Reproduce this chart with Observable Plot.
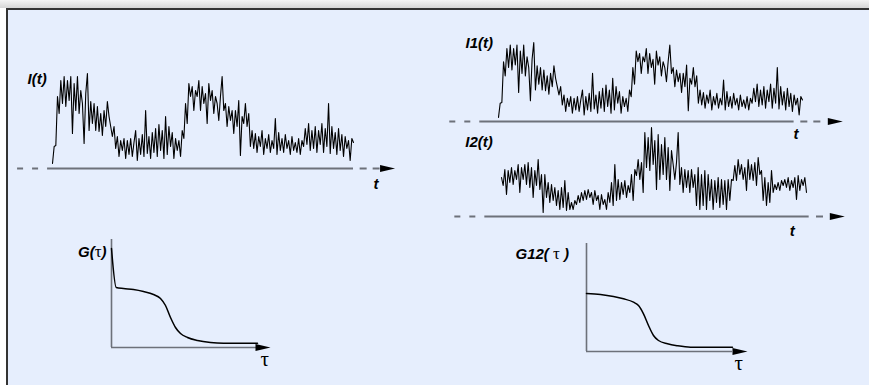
<!DOCTYPE html>
<html><head><meta charset="utf-8">
<script src="https://cdn.jsdelivr.net/npm/d3@7"></script>
<script src="https://cdn.jsdelivr.net/npm/@observablehq/plot@0.6"></script>
<style>
html,body{margin:0;padding:0;background:#fff;overflow:hidden;}
#frame{position:relative;width:869px;height:385px;overflow:hidden;background:linear-gradient(#f4f4f4,#d6d6d6) top/100% 8px no-repeat,#fff;}
#box{position:absolute;left:6px;top:8px;width:900px;height:400px;background:#e6eefd;border-left:2px solid #333;border-top:2px solid #333;}
#frame svg{position:absolute;left:0;top:0;}
</style></head>
<body><div id="frame"><div id="box"></div></div>
<script>
// ---- data (heights above the time axis) ----
const I_VALUES = [
 5,22,23,72,55,88,65,92,62,88,68,92,35,85,58,92,55,78,65,25,75,95,38,67,45,65,38,62,37,55,33,58,42,67,52,42,32,42,20,32,12,28,
 18,30,10,28,14,30,12,26,38,8,30,14,34,12,58,15,32,10,36,16,40,12,44,18,38,10,52,14,42,22,36,10,30,18,28,12,
 38,30,65,45,85,72,82,58,78,72,88,58,82,65,75,45,85,68,78,55,72,65,48,72,92,58,65,42,62,48,58,35,58,42,68,13,52,45,65,42,55,22,
 38,20,35,16,32,22,38,14,30,20,34,16,28,20,50,14,36,18,30,16,34,20,28,14,32,18,26,16,30,14,28,22,40,24,45,18,38,20,42,16,38,24,45,16,40,22,65,15,42,20,36,14,40,18,34,12,32,20,28,8,30,26
];
// detector 1 shows the same recording
const I1_VALUES = I_VALUES;
const I2_VALUES = [
 39,31,47,22,46,34,49,32,46,37,52,24,49,37,52,32,54,29,49,19,46,31,57,27,42,4,42,19,34,14,
 32,16,29,11,26,7,29,9,36,6,24,7,14,7,16,12,21,14,24,16,26,17,27,19,24,12,26,16,21,7,
 22,12,17,7,24,14,34,11,52,16,37,17,34,22,36,19,31,24,42,16,47,41,57,37,54,24,84,49,79,46,
 89,52,76,27,82,37,72,42,79,37,69,26,66,52,37,54,84,32,49,24,47,29,46,24,47,29,42,11,49,7,
 42,11,46,7,42,16,37,7,36,14,39,9,37,12,36,7,37,16,37,36,51,36,57,42,52,37,49,26,57,37,
 52,36,54,31,59,42,46,16,39,11,34,14,46,24,32,27,34,26,36,31,37,29,39,26,36,29,39,17,41,26,
 37,31,39,24
];
const G_TAU   = [0, 4.7, 12, 22, 32, 42, 49, 54, 59, 64, 69, 76, 86, 99, 112, 146];
const G_VALUES= [99, 60, 59, 58, 56, 53, 49, 42, 30, 20, 14, 10, 7, 5, 4.3, 4.3];
const G12_TAU    = [0, 14, 27, 37, 47, 52, 57, 62, 67, 72, 81, 91, 104, 146];
const G12_VALUES = [58, 57, 55, 52.7, 49.3, 46, 37.7, 26, 16, 11, 7.7, 5.7, 4.3, 4.3];
const TRACE_LABELS = ["I(t)", "I1(t)", "I2(t)"];
const TIME_LABEL = "t";
const CORR_LABELS = ["G(\u03c4)", "G12( \u03c4 )"];
const LAG_LABEL = "\u03c4";

// ---- layout / style ----
const AXIS = "#6d717a";
const SANS = "'Liberation Sans', Arial, Helvetica, sans-serif";
const SERIF = "'Liberation Serif', 'Times New Roman', serif";
const arrowHead = {draw(ctx){ctx.moveTo(0,0);ctx.lineTo(-15,-3.5);ctx.lineTo(-15,3.5);ctx.closePath();}};
const frame = document.getElementById("frame");

function panel(cfg, marks){
  const svg = Plot.plot({
    width: 869, height: 385, margin: 0,
    x: {type: "linear", domain: cfg.xDomain, range: cfg.xRange, axis: null},
    y: {type: "linear", domain: cfg.yDomain, range: cfg.yRange, axis: null},
    style: {background: "transparent", overflow: "visible"},
    marks
  });
  // render the Greek tau of mixed labels in a serif face, as in the original
  svg.querySelectorAll("text").forEach(t => {
    const s = t.textContent;
    if (s.length > 1 && s.includes("\u03c4")) {
      t.textContent = "";
      s.split(/(\u03c4)/).forEach(part => {
        if (!part) return;
        const ts = document.createElementNS("http://www.w3.org/2000/svg", "tspan");
        ts.textContent = part;
        if (part === "\u03c4") {
          ts.setAttribute("font-family", SERIF);
          ts.setAttribute("font-weight", "normal");
          ts.setAttribute("font-style", "normal");
          ts.setAttribute("font-size", "17");
        }
        t.appendChild(ts);
      });
    }
  });
  frame.appendChild(svg);
}
const labelText = (o) => Plot.text([o], {x: "x", y: "y", text: "text", textAnchor: o.anchor || "start", lineAnchor: "bottom",
  fontFamily: o.family || SANS, fontWeight: o.weight || "bold", fontStyle: o.style || "italic", fontSize: o.size || 15, fill: "#000"});

function tracePanel(values, cfg, label){
  const a = cfg.axis;
  panel(cfg, [
    Plot.ruleY([0], {x1: a.dashStart, x2: a.solidStart, stroke: AXIS, strokeWidth: 2, strokeDasharray: "6,9"}),
    Plot.ruleY([0], {x1: a.solidStart, x2: a.solidEnd, stroke: AXIS, strokeWidth: 2}),
    Plot.ruleY([0], {x1: a.dash2Start, x2: a.dashEnd, stroke: AXIS, strokeWidth: 2, strokeDasharray: "7,6"}),
    Plot.line(values, {x: (d, i) => i, y: d => d, stroke: "#000", strokeWidth: 1.1}),
    Plot.dot([{x: a.tip, y: 0}], {x: "x", y: "y", symbol: arrowHead, fill: "#000", stroke: "none", r: 5}),
    labelText({text: label, x: cfg.label[0], y: cfg.label[1]}),
    labelText({text: TIME_LABEL, x: cfg.tLabel[0], y: cfg.tLabel[1]})
  ]);
}
function corrPanel(tau, g, cfg, label){
  panel(cfg, [
    Plot.ruleX([0], {y1: 0, y2: cfg.yTop, stroke: AXIS, strokeWidth: 1.6}),
    Plot.ruleY([0], {x1: 0, x2: cfg.xEnd, stroke: AXIS, strokeWidth: 1.6}),
    Plot.line(tau.map((t, i) => ({t, g: g[i]})), {x: "t", y: "g", stroke: "#000", strokeWidth: 1.5, curve: "monotone-x"}),
    Plot.dot([{x: cfg.tip, y: 0}], {x: "x", y: "y", symbol: arrowHead, fill: "#000", stroke: "none", r: 5}),
    labelText({text: label, x: cfg.label[0], y: cfg.label[1], anchor: cfg.labelAnchor}),
    labelText({text: LAG_LABEL, x: cfg.tauLabel[0], y: cfg.tauLabel[1], family: SERIF, weight: "normal", style: "normal", size: 21})
  ]);
}

tracePanel(I_VALUES, {
  xDomain: [0, I_VALUES.length - 1], xRange: [52, 353], yDomain: [0, 100], yRange: [168, 68],
  axis: {dashStart: -21, solidStart: 0, solidEnd: 181, dash2Start: 185, dashEnd: 197, tip: 206},
  label: [-15, 85], tLabel: [193, -20]
}, TRACE_LABELS[0]);

tracePanel(I1_VALUES, {
  xDomain: [0, I1_VALUES.length - 1], xRange: [498, 802], yDomain: [0, 100], yRange: [121, 38],
  axis: {dashStart: -29, solidStart: -10.7, solidEnd: 176, dash2Start: 180, dashEnd: 194, tip: 205},
  label: [-19.6, 89], tLabel: [175.6, -20.5]
}, TRACE_LABELS[1]);

tracePanel(I2_VALUES, {
  xDomain: [0, I2_VALUES.length - 1], xRange: [501, 806], yDomain: [0, 100], yRange: [216, 116],
  axis: {dashStart: -28, solidStart: -8.4, solidEnd: 184.6, dash2Start: 189, dashEnd: 195, tip: 206},
  label: [-21.7, 70], tLabel: [173, -19]
}, TRACE_LABELS[2]);

corrPanel(G_TAU, G_VALUES, {
  xDomain: [0, 146], xRange: [111, 257], yDomain: [0, 100], yRange: [347, 247],
  yTop: 108, xEnd: 146, tip: 159, label: [-5, 91], labelAnchor: "end", tauLabel: [149, -18]
}, CORR_LABELS[0]);

corrPanel(G12_TAU, G12_VALUES, {
  xDomain: [0, 146], xRange: [586, 732], yDomain: [0, 100], yRange: [351, 251],
  yTop: 108, xEnd: 146, tip: 161, label: [-71, 93], labelAnchor: "start", tauLabel: [148, -18]
}, CORR_LABELS[1]);
</script></body></html>
